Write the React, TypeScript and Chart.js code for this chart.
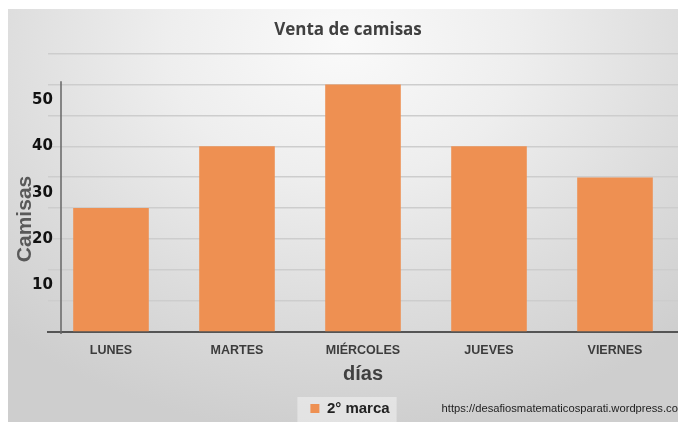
import React, { useEffect, useRef } from "react";
import { Chart, registerables } from "chart.js";

Chart.register(...registerables);

const TITLE = "Venta de camisas";
const CATEGORIES = ["LUNES", "MARTES", "MIÉRCOLES", "JUEVES", "VIERNES"];
const SERIES_NAME = "2° marca";
const VALUES = [26.7, 40, 53.3, 40, 33.3];
const Y_LABELS = [10, 20, 30, 40, 50];
const Y_GRID = [0, 6.67, 13.33, 20, 26.67, 33.33, 40, 46.67, 53.33, 60];
const Y_MAX = 60;
const Y_AXIS_TOP = 54;
const Y_TITLE = "Camisas";
const X_TITLE = "días";
const SOURCE = "https://desafiosmatematicosparati.wordpress.com";

const near = (a: number, b: number) => Math.abs(a - b) < 0.05;
const isGrid = (v: number) => Y_GRID.some((g) => near(g, v));
const isLabel = (v: number) => Y_LABELS.some((g) => near(g, v));
const ALL_TICKS = [...Y_GRID, ...Y_LABELS.filter((l) => !isGrid(l))].sort((a, b) => a - b);

const decor = {
  id: "decor",
  afterLayout(chart: any) {
    const lg = chart.legend;
    if (lg) {
      lg.left += 7;
      lg.right += 7;
    }
    const tb = chart.titleBlock;
    if (tb) {
      tb.left += 5;
      tb.right += 5;
    }
  },
  beforeDraw(chart: any) {
    const ctx = chart.ctx;
    const hb = chart.legend && chart.legend.legendHitBoxes && chart.legend.legendHitBoxes[0];
    if (hb) {
      ctx.save();
      ctx.fillStyle = "rgba(255,255,255,0.4)";
      ctx.fillRect(hb.left - 13, hb.top - 4, hb.width + 20, chart.height - hb.top + 4);
      ctx.restore();
    }
  },
  afterDraw(chart: any) {
    const ctx = chart.ctx;
    const area = chart.chartArea;
    const y = chart.scales.y;
    ctx.save();
    ctx.strokeStyle = "#666";
    ctx.lineWidth = 1.5;
    ctx.beginPath();
    ctx.moveTo(area.left + 13, y.getPixelForValue(Y_AXIS_TOP));
    ctx.lineTo(area.left + 13, area.bottom + 2);
    ctx.stroke();
    const hb = chart.legend && chart.legend.legendHitBoxes && chart.legend.legendHitBoxes[0];
    if (hb) {
      ctx.fillStyle = "#222";
      ctx.font = "11.2px 'Liberation Sans', Arial, sans-serif";
      ctx.textBaseline = "middle";
      ctx.textAlign = "left";
      ctx.fillText(SOURCE, hb.left + hb.width + 52, hb.top + hb.height / 2);
    }
    ctx.restore();
  },
};

export default function App() {
  const ref = useRef<HTMLCanvasElement>(null);
  useEffect(() => {
    const chart = new Chart(ref.current!, {
      type: "bar",
      data: {
        labels: CATEGORIES,
        datasets: [
          {
            label: SERIES_NAME,
            data: VALUES,
            backgroundColor: "#EE9052",
            borderWidth: 0,
            barPercentage: 0.6,
            categoryPercentage: 1,
          },
        ],
      },
      options: {
        responsive: false,
        animation: false,
        layout: { padding: { left: 0, right: 0, top: 0, bottom: -4 } },
        plugins: {
          title: {
            display: true,
            text: TITLE,
            color: "#404040",
            font: { family: "'Open Sans', sans-serif", size: 17, weight: "bold" },
            padding: { top: 11, bottom: 13 },
          },
          legend: {
            position: "bottom",
            labels: {
              boxWidth: 9,
              boxHeight: 9,
              padding: 2,
              color: "#222",
              font: { family: "'Liberation Sans', Arial, sans-serif", size: 15, weight: "bold" },
            },
          },
          tooltip: { enabled: false },
        },
        scales: {
          x: {
            grid: { display: false, drawTicks: false },
            border: { display: true, color: "#555", width: 2 },
            ticks: {
              color: "#3c3c3c",
              padding: 11,
              font: { family: "'Liberation Sans', Arial, sans-serif", size: 12.5, weight: "bold" },
            },
            title: {
              display: true,
              text: X_TITLE,
              color: "#404040",
              font: { family: "'Liberation Sans', Arial, sans-serif", size: 20, weight: "bold" },
              padding: { top: 0, bottom: 13 },
            },
            afterFit: (axis: any) => {
              axis.height = 67;
            },
          },
          y: {
            min: 0,
            max: Y_MAX,
            afterBuildTicks: (axis: any) => {
              axis.ticks = ALL_TICKS.map((v) => ({ value: v }));
            },
            grid: {
              drawTicks: false,
              lineWidth: 1.5,
              color: (c: any) => {
                const v = c.tick ? c.tick.value : -1;
                if (near(v, 0)) return "rgba(0,0,0,0)";
                return isGrid(v) ? "#cdcdcd" : "rgba(0,0,0,0)";
              },
            },
            border: { display: false },
            ticks: {
              mirror: true,
              crossAlign: "far",
              padding: -16,
              color: "#111",
              autoSkip: false,
              font: { family: "'DejaVu Sans', sans-serif", size: 15, weight: "bold" },
              callback: (v: any) => (isLabel(Number(v)) ? String(Math.round(Number(v))) : ""),
            },
            title: {
              display: true,
              text: Y_TITLE + "\u0020".repeat(9),
              color: "#595959",
              font: { family: "'Liberation Sans', Arial, sans-serif", size: 21, weight: "bold" },
              padding: { top: 5, bottom: 0 },
            },
            afterFit: (axis: any) => {
              axis.width = 40;
            },
          },
        },
      },
      plugins: [decor],
    });
    return () => chart.destroy();
  }, []);

  return (
    <div
      style={{
        position: "fixed",
        left: 8,
        top: 9,
        width: 670,
        height: 413,
        background:
          "radial-gradient(ellipse 75% 95% at 50% 8%, #fafafa 0%, #eeeeee 35%, #dcdcdc 70%, #cecece 100%)",
      }}
    >
      <canvas ref={ref} width={670} height={413} style={{ display: "block" }} />
    </div>
  );
}
